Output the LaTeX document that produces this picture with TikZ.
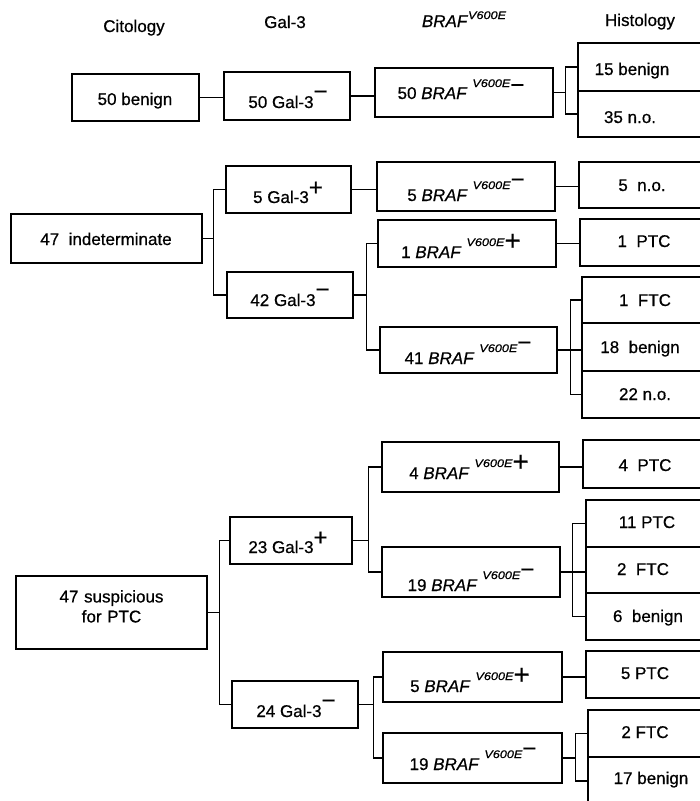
\documentclass[tikz,border=0pt]{standalone}
\usepackage{graphicx}
\usepackage{fontspec}
\setmainfont{Liberation Sans}[FakeBold=0.6]
\usetikzlibrary{fit,calc}
\newcommand\fs{\fontsize{17}{20}\selectfont}
\newcommand\glp{\raisebox{7.5pt}{\fontsize{24}{24}\selectfont +}}
\newcommand\glm{\raisebox{8.5pt}{\fontsize{24}{24}\selectfont −}}
\newcommand\brp{\raisebox{8pt}{\fontsize{28}{28}\selectfont +}}
\newcommand\brm[1][13.5pt]{\raisebox{#1}{\fontsize{24}{24}\selectfont −}}
\newcommand\vsix[1]{\raisebox{#1}{\scalebox{1.15}[1]{\fontsize{11}{11}\selectfont\itshape V600E}}}
\newcommand\braf{\textit{BRAF}\hspace{5pt}\vsix{12pt}}
\begin{document}
\begin{tikzpicture}[x=1pt, y=-1pt,
  box/.style={draw, line width=1.3pt, inner sep=0pt},
  lbl/.style={anchor=base, inner sep=0pt, font=\fs},
  ln/.style={line width=1.3pt}]
\useasboundingbox (0,0) rectangle (700,801);
\clip (0,0) rectangle (700,801);
\fill[white] (0,0) rectangle (700,801);

% headers
\node[lbl] (hC) at (134,32) {Citology};
\node[lbl] (hG) at (285,28) {Gal-3};
\node[lbl] (hB) at (464,27) {\textit{BRAF}\vsix{8pt}};
\node[lbl] (hH) at (640,26) {Histology};

% row 1
\node[box, fit={(72,74) (199,121)}] (cb) {};
\node[lbl] (cb-t) at (135,105) {50 benign};
\node[box, fit={(224,72) (350,120)}] (g1) {};
\node[lbl] (g1-t) at (288,108) {50 Gal-3\glm};
\node[box, fit={(375,68) (553,117)}] (b1) {};
\node[lbl] (b1-t) at (461,99) {50 \braf\brm[6pt]};
\node[box, fit={(578,43) (710,91)}] (h1a) {};
\node[lbl] (h1a-t) at (632,75) {15 benign};
\node[box, fit={(578,91) (710,137)}] (h1b) {};
\node[lbl] (h1b-t) at (630,123) {35 n.o.};
\draw[ln] (cb.east) -- (cb.east -| g1.west);
\draw[ln] (g1.east) -- (g1.east -| b1.west);
\coordinate (k1) at ($(b1.east)+(12,0)$);
\draw[ln] (b1.east) -- (k1);
\draw[ln] (h1a.west) -| (k1) |- (h1b.west);

% row 2
\node[box, fit={(11,214) (202,263)}] (ci) {};
\node[lbl] (ci-t) at (106,245) {47~ indeterminate};
\node[box, fit={(226,166) (351,213)}] (g2a) {};
\node[lbl] (g2a-t) at (288,203) {5 Gal-3\glp};
\node[box, fit={(227,272) (353,318)}] (g2b) {};
\node[lbl] (g2b-t) at (290,306) {42 Gal-3\glm};
\coordinate (k2) at ($(ci.east)+(11,0)$);
\draw[ln] (ci.east) -- (k2);
\draw[ln] (g2a.west) -| (k2) |- (g2b.west);

\node[box, fit={(377,162) (555,211)}] (b2a) {};
\node[lbl] (b2a-t) at (466,201) {5 \braf\brm};
\draw[ln] (g2a.east) -- (g2a.east -| b2a.west);
\node[box, fit={(579,162) (710,208)}] (h2a) {};
\node[lbl] (h2a-t) at (642,191) {5~ n.o.};
\draw[ln] (b2a.east) -- (b2a.east -| h2a.west);

\node[box, fit={(378,220) (556,267)}] (b2b) {};
\node[lbl] (b2b-t) at (461,258) {1 \braf\brp};
\node[box, fit={(380,327) (557,373)}] (b2c) {};
\node[lbl] (b2c-t) at (468,364) {41 \braf\brm};
\coordinate (k3) at ($(g2b.east)+(13,0)$);
\draw[ln] (g2b.east) -- (k3);
\draw[ln] (b2b.west) -| (k3) |- (b2c.west);
\node[box, fit={(580,219) (710,266)}] (h2b) {};
\node[lbl] (h2b-t) at (644,247) {1~ PTC};
\draw[ln] (b2b.east) -- (b2b.east -| h2b.west);
\node[box, fit={(582,277) (710,323)}] (h2c) {};
\node[lbl] (h2c-t) at (645,306) {1~ FTC};
\node[box, fit={(582,323) (710,371)}] (h2d) {};
\node[lbl] (h2d-t) at (640,353) {18~ benign};
\node[box, fit={(582,371) (710,418)}] (h2e) {};
\node[lbl] (h2e-t) at (645,400) {22 n.o.};
\coordinate (k4) at ($(b2c.east)+(13,0)$);
\draw[ln] (b2c.east) -- (b2c.east -| h2d.west);
\draw[ln] (h2c.west) -| (k4) |- (h2e.west);

% row 3
\node[box, fit={(16,576) (207,649)}, align=center, font=\fs] (cs) {47 suspicious\\for PTC};
\node[box, fit={(230,517) (352,564)}] (g3a) {};
\node[lbl] (g3a-t) at (288,553) {23 Gal-3\glp};
\node[box, fit={(232,681) (358,728)}] (g3b) {};
\node[lbl] (g3b-t) at (296,717) {24 Gal-3\glm};
\coordinate (k5) at ($(cs.east)+(12,0)$);
\draw[ln] (cs.east) -- (k5);
\draw[ln] (g3a.west) -| (k5) |- (g3b.west);

\node[box, fit={(382,442) (559,492)}] (b3a) {};
\node[lbl] (b3a-t) at (469,479) {4 \braf\brp};
\node[box, fit={(382,547) (560,597)}] (b3b) {};
\node[lbl] (b3b-t) at (471,591) {19 \braf\brm};
\coordinate (k6) at ($(g3a.east)+(16,0)$);
\draw[ln] (g3a.east) -- (k6);
\draw[ln] (b3a.west) -| (k6) |- (b3b.west);
\node[box, fit={(583,440) (710,488)}] (h3a) {};
\node[lbl] (h3a-t) at (645,471) {4~ PTC};
\draw[ln] (b3a.east) -- (b3a.east -| h3a.west);
\node[box, fit={(586,500) (710,547)}] (h3b) {};
\node[lbl] (h3b-t) at (647,528) {11 PTC};
\node[box, fit={(586,547) (710,593)}] (h3c) {};
\node[lbl] (h3c-t) at (643,575) {2~ FTC};
\node[box, fit={(586,593) (710,640)}] (h3d) {};
\node[lbl] (h3d-t) at (648,622) {6~ benign};
\coordinate (k7) at ($(b3b.east)+(12,0)$);
\draw[ln] (b3b.east) -- (b3b.east -| h3c.west);
\draw[ln] (h3b.west) -| (k7) |- (h3d.west);

\node[box, fit={(383,652) (562,702)}] (b3c) {};
\node[lbl] (b3c-t) at (470,692) {5 \braf\brp};
\node[box, fit={(383,733) (562,783)}] (b3d) {};
\node[lbl] (b3d-t) at (473,770) {19 \braf\brm};
\coordinate (k8) at ($(g3b.east)+(15,0)$);
\draw[ln] (g3b.east) -- (k8);
\draw[ln] (b3c.west) -| (k8) |- (b3d.west);
\node[box, fit={(586,651) (710,698)}] (h3e) {};
\node[lbl] (h3e-t) at (645,679) {5 PTC};
\draw[ln] (b3c.east) -- (b3c.east -| h3e.west);
\node[box, fit={(588,710) (710,757)}] (h3f) {};
\node[lbl] (h3f-t) at (645,738) {2 FTC};
\node[box, fit={(588,757) (710,805)}] (h3g) {};
\node[lbl] (h3g-t) at (651,784) {17 benign};
\coordinate (k9) at ($(b3d.east)+(13,0)$);
\draw[ln] (b3d.east) -- (k9);
\draw[ln] (h3f.west) -| (k9) |- (h3g.west);
\end{tikzpicture}
\end{document}
